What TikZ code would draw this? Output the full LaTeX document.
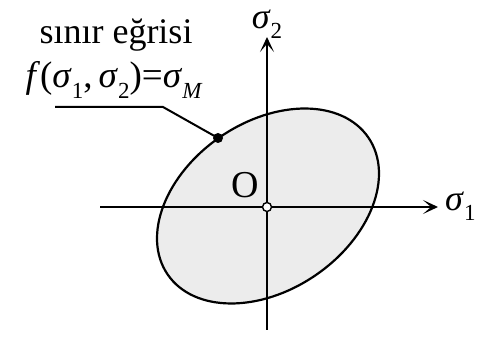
\documentclass[tikz,border=0pt]{standalone}
\usepackage{fontspec}
\setmainfont{Liberation Serif}
\usetikzlibrary{arrows.meta}
\newcommand{\lowidx}[1]{\raisebox{-0.28em}{\fontsize{23}{23}\selectfont #1}}
\tikzset{
  axis/.style={line width=2.8pt,-{Stealth[length=15pt,width=14pt,inset=8pt]}},
  bigtext/.style={font=\fontsize{36}{40}\selectfont, inner sep=0pt},
}

\begin{document}
\begin{tikzpicture}[x=1pt,y=1pt]
\useasboundingbox (0,0) rectangle (477,340);
% ---------- region bounded by the curve ----------
\draw[line width=2.2pt, fill=gray!15] (268,134) ellipse[x radius=121.5, y radius=84, rotate=34.3];
% ---------- axes ----------
\coordinate (O) at (267,133);
\coordinate (xs) at (100,133);
\coordinate (xe) at (438,133);
\coordinate (ys) at (267,10);
\coordinate (ye) at (267,303);
\draw[axis] (xs) -- (xe);
\draw[axis] (ys) -- (ye);
\node[bigtext, anchor=west] (s1) at (445,134) {\textit{σ}\lowidx{1}};
\node[bigtext] (s2) at (267,316) {\textit{σ}\lowidx{2}};
\node[bigtext, font=\fontsize{38}{40}\selectfont] (olab) at (245,155) {O};
\filldraw[line width=1.4pt, fill=white] (O) circle (4.5);
% ---------- boundary curve label ----------
\node[bigtext] (title) at (116,305) {sınır eğrisi};
\node[bigtext, font=\fontsize{37}{40}\selectfont] (eqn) at (114,260) {\textit{f}(\textit{σ}\lowidx{1},\,\textit{σ}\lowidx{2})=\textit{σ}\lowidx{\textit{M}}};
\coordinate (lead) at (55,233);
\coordinate (knee) at (163,233);
\coordinate (pt) at (218,202);
\draw[line width=2pt] (lead) -- (knee) -- (pt);
\fill (pt) circle (5);
\end{tikzpicture}
\end{document}
